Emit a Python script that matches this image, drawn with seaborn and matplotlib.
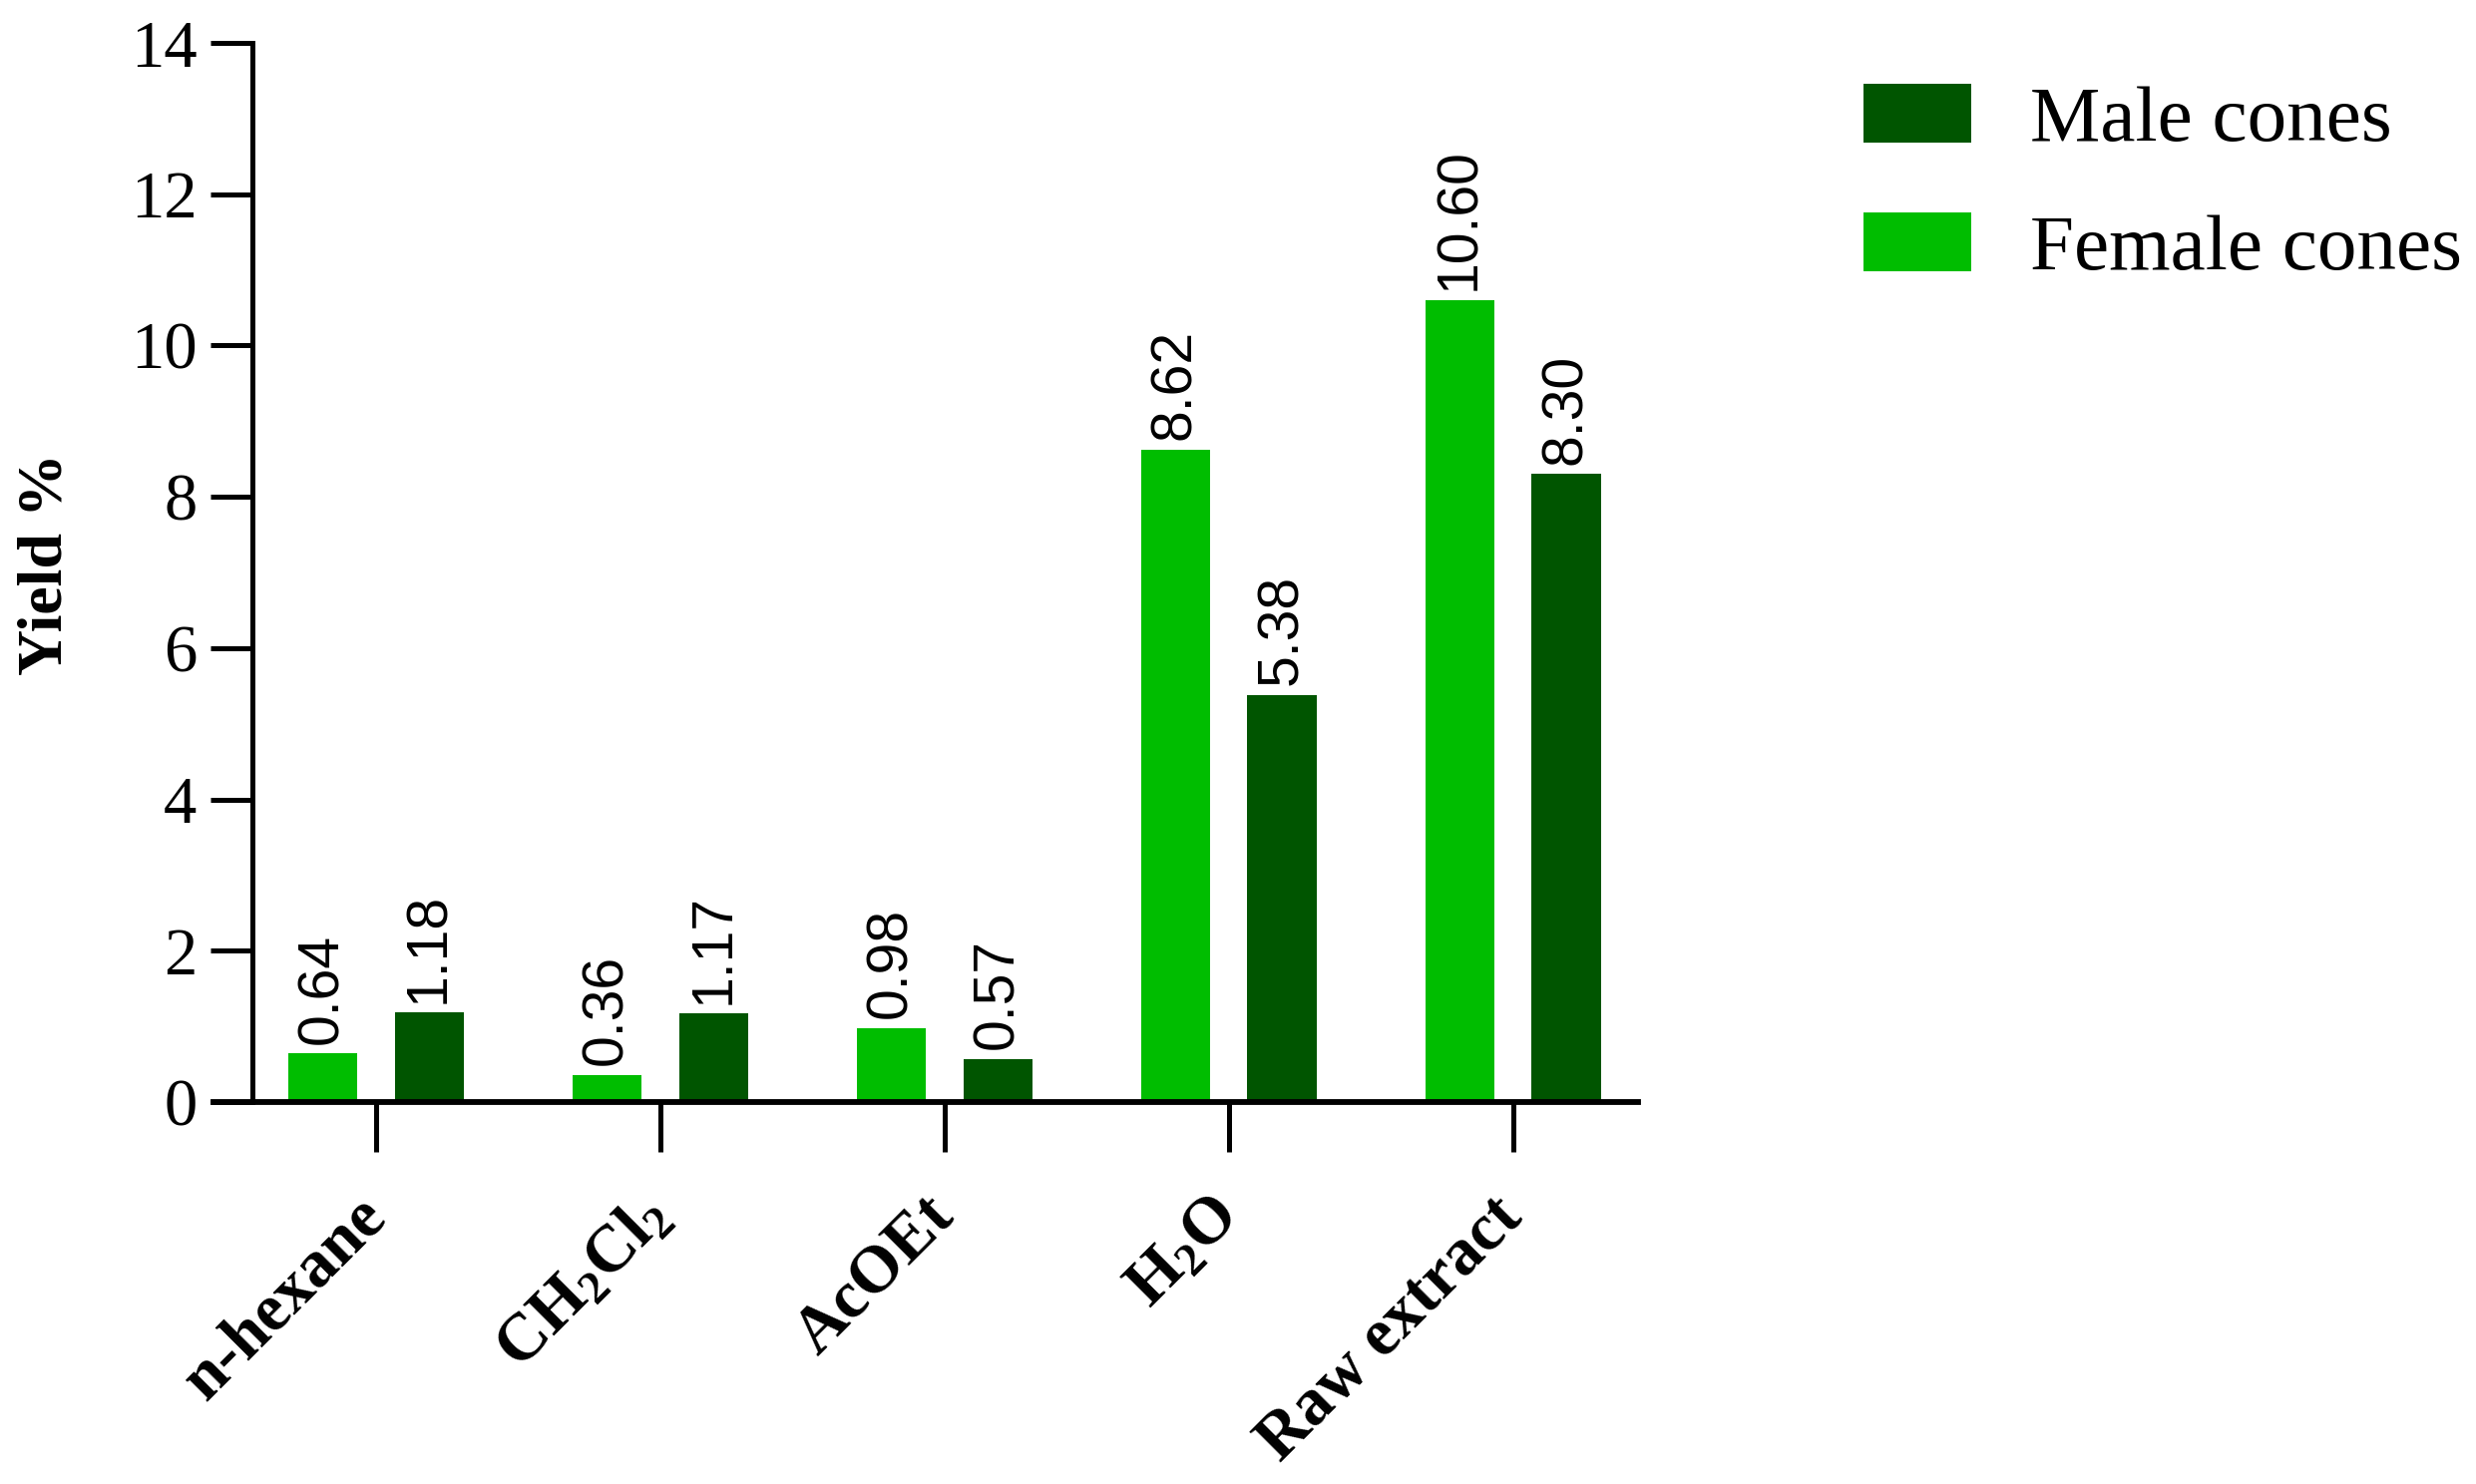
import matplotlib
matplotlib.use("Agg")
import matplotlib.pyplot as plt
import pandas as pd
import seaborn as sns

# Extraction yields (%) per solvent
solvents = ["n-hexane", "CH2Cl2", "AcOEt", "H2O", "Raw extract"]
tick_labels = ["n-hexane", r"CH$_2$Cl$_2$", "AcOEt", r"H$_2$O", "Raw extract"]
female_yield = [0.64, 0.36, 0.98, 8.62, 10.60]
male_yield = [1.18, 1.17, 0.57, 5.38, 8.30]
y_ticks = [0, 2, 4, 6, 8, 10, 12, 14]

df = pd.DataFrame({
    "solvent": solvents * 2,
    "yield": female_yield + male_yield,
    "cones": ["Female cones"] * len(solvents) + ["Male cones"] * len(solvents),
})

sns.set_style("ticks")
plt.rcParams["font.family"] = ["Liberation Serif", "DejaVu Serif"]
plt.rcParams["mathtext.fontset"] = "custom"
plt.rcParams["mathtext.rm"] = "Liberation Serif:bold"
plt.rcParams["mathtext.it"] = "Liberation Serif:bold"
plt.rcParams["mathtext.default"] = "rm"
plt.rcParams["text.color"] = "black"
plt.rcParams["axes.labelcolor"] = "black"
plt.rcParams["xtick.color"] = "black"
plt.rcParams["ytick.color"] = "black"
plt.rcParams["axes.edgecolor"] = "black"

colors = {"Female cones": "#00bd00", "Male cones": "#005500"}

fig = plt.figure(figsize=(24.82, 14.88), dpi=100)
ax = fig.add_axes([0.0862, 0.2574, 0.5754, 0.7137])

sns.barplot(data=df, x="solvent", y="yield", hue="cones",
            hue_order=["Female cones", "Male cones"], palette=colors,
            order=solvents, width=0.75, gap=0.35, errorbar=None,
            saturation=1, linewidth=0, ax=ax)

for cont in ax.containers:
    ax.bar_label(cont, fmt="%.2f", rotation=90, padding=7,
                 fontsize=41, family="Liberation Sans", color="black")

ax.set_xlim(-0.572, 4.44)
ax.set_ylim(0, 14)
ax.set_yticks(y_ticks)
ax.set_xticks(range(len(solvents)))
ax.set_xticklabels(tick_labels, rotation=45, ha="right", va="center",
                   rotation_mode="anchor", fontweight="bold")

ax.spines["top"].set_visible(False)
ax.spines["right"].set_visible(False)
ax.spines["left"].set_position(("data", -0.435))
ax.spines["left"].set_linewidth(3.6)
ax.spines["bottom"].set_linewidth(4.2)
ax.spines["left"].set_bounds(0, 14)

ax.tick_params(axis="y", left=True, direction="out", length=30, width=3.6,
               pad=10, labelsize=48)
ax.tick_params(axis="x", bottom=True, direction="out", length=36, width=3.6,
               pad=40, labelsize=48)

ax.set_xlabel("")
ax.set_ylabel("Yield %", fontsize=46, fontweight="bold")
ax.yaxis.set_label_coords(-0.0966, 0.508)

handles, labels = ax.get_legend_handles_labels()
ax.legend(handles[::-1], labels[::-1], loc="upper left",
          bbox_to_anchor=(0.7366, 0.970), bbox_transform=fig.transFigure,
          frameon=False, fontsize=57, borderpad=0, handlelength=1.364,
          handleheight=0.76, handletextpad=0.75, labelspacing=0.70)

fig.savefig("out.png", dpi=100, facecolor="white")
